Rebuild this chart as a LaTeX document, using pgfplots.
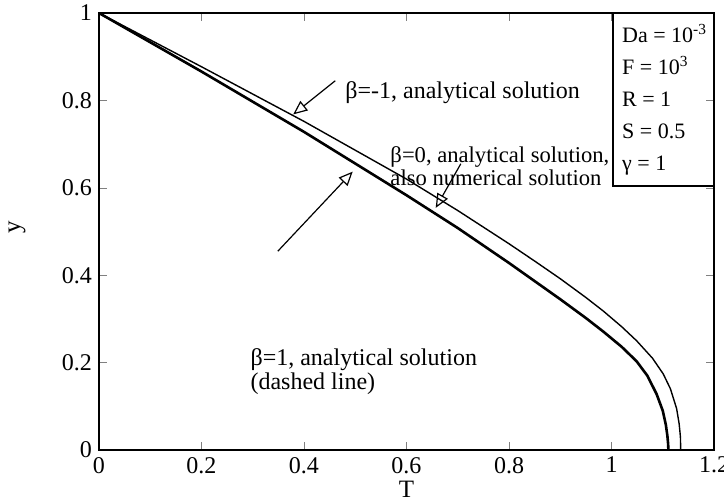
\documentclass[border=0pt]{standalone}
\usepackage{fontspec}
\setmainfont{Liberation Serif}
\usepackage{pgfplots}
\pgfplotsset{compat=1.18}
\usetikzlibrary{arrows.meta}

% beta = 0 (solid) and beta = 1 (dashed) lie on top of each other
\pgfplotstableread{
T y
0.000 1.000
0.200 0.866
0.400 0.728
0.600 0.583
0.700 0.508
0.800 0.428
0.900 0.345
0.950 0.302
0.984 0.271
1.020 0.236
1.049 0.203
1.070 0.170
1.088 0.128
1.100 0.090
1.106 0.058
1.109 0.033
1.1105 0.014
1.111 0.000
}\betazero
\pgfplotstableread{
T y
0.000 1.000
0.200 0.877
0.400 0.752
0.600 0.620
0.700 0.548
0.800 0.472
0.853 0.430
0.900 0.392
0.950 0.349
0.984 0.318
1.020 0.282
1.049 0.250
1.080 0.210
1.101 0.174
1.115 0.140
1.127 0.095
1.132 0.060
1.1345 0.030
1.135 0.000
}\betaminus

\begin{document}
\begin{tikzpicture}
\begin{axis}[
  scale only axis, width=307.5pt, height=218.5pt,
  xmin=0, xmax=1.2, ymin=0, ymax=1,
  xtick={0,0.2,...,1.2}, ytick={0,0.2,...,1},
  xticklabels={0,0.2,0.4,0.6,0.8,1,1.2},
  yticklabels={0,0.2,0.4,0.6,0.8,1},
  /pgf/number format/assume math mode=true,
  tick label style={font=\fontsize{12}{14}\selectfont},
  axis line style={line width=1pt},
  major tick length=4pt,
  xlabel={T}, ylabel={y},
  label style={font=\fontsize{12.5}{15}\selectfont},
  xlabel style={at={(axis description cs:0.5,0)}, anchor=center, yshift=-19.5pt},
  ylabel style={at={(axis description cs:0,0.51)}, anchor=center, yshift=41pt},
]
\addplot[black, line width=1.3pt] table {\betazero};
\addplot[black, line width=0.7pt] table {\betaminus};

\draw[line width=0.8pt] (axis cs:1.003,1) rectangle (axis cs:1.2,0.604);
\node[anchor=north west, align=left, inner sep=0pt,
  font=\fontsize{11}{16}\selectfont]
  at (axis cs:1.02,0.975) {Da = 10\textsuperscript{-3}\\F = 10\textsuperscript{3}\\R = 1\\S = 0.5\\γ = 1};

\node[anchor=west, inner sep=0pt, font=\fontsize{12}{14}\selectfont] at (axis cs:0.48,0.818) {β=-1, analytical solution};
\node[anchor=north west, align=left, inner sep=0pt, font=\fontsize{11.3}{10}\selectfont] at (axis cs:0.568,0.695) {β=0, analytical solution,\\also numerical solution};
\node[anchor=north west, align=left, inner sep=0pt, font=\fontsize{12}{10}\selectfont] at (axis cs:0.295,0.232) {β=1, analytical solution\\(dashed line)};

\draw[-{Triangle[open, length=7pt, width=6pt]}, line width=0.6pt] (axis cs:0.461,0.845) -- (axis cs:0.379,0.768);
\draw[-{Triangle[open, length=7pt, width=6pt]}, line width=0.6pt] (axis cs:0.706,0.655) -- (axis cs:0.657,0.554);
\draw[-{Triangle[open, length=7pt, width=6pt]}, line width=0.6pt] (axis cs:0.349,0.455) -- (axis cs:0.495,0.637);
\end{axis}
\pgfresetboundingbox
\path[use as bounding box] ([shift={(-49.5pt,-25pt)}]current axis.south west) rectangle ([shift={(5pt,6.5pt)}]current axis.north east);
\end{tikzpicture}
\end{document}
